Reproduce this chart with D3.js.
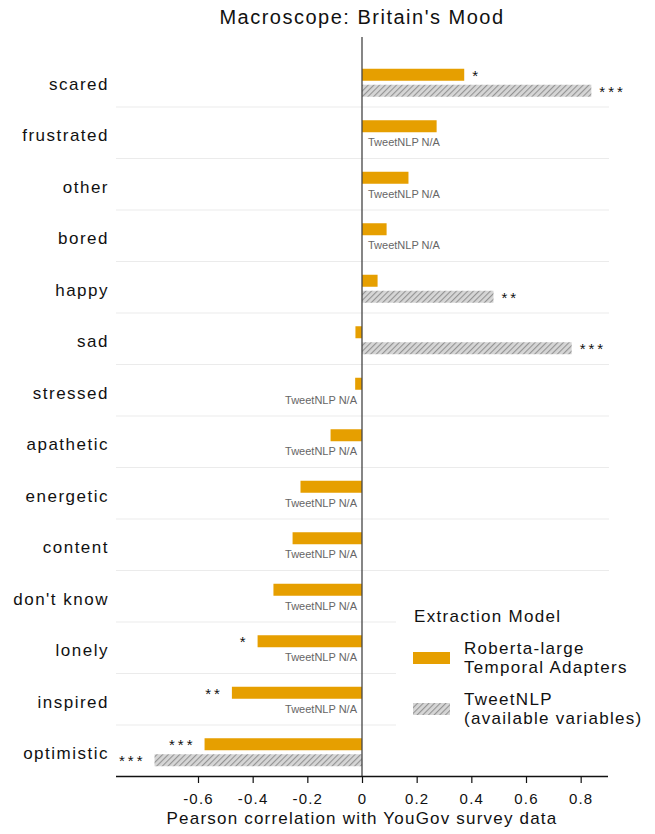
<!DOCTYPE html>
<html><head><meta charset="utf-8">
<script src="https://cdn.jsdelivr.net/npm/d3@7"></script>
<style>body{margin:0;background:#fff}svg{display:block;font-family:"Liberation Sans",Arial,sans-serif}</style>
</head><body>
<svg id="chart" width="655" height="834"></svg>
<script>
const categories = ["scared","frustrated","other","bored","happy","sad","stressed","apathetic","energetic","content","don't know","lonely","inspired","optimistic"];
const robertaValues = [0.374,0.273,0.17,0.09,0.057,-0.024,-0.025,-0.115,-0.225,-0.254,-0.324,-0.382,-0.476,-0.576];
const robertaSig = ["*","","","","","","","","","","","*","**","***"];
const tweetValues = [0.839,null,null,null,0.481,0.767,null,null,null,null,null,null,null,-0.759];
const tweetSig = ["***","","","","**","***","","","","","","","","***"];
const tickValues = [-0.6,-0.4,-0.2,0,0.2,0.4,0.6,0.8];
const legendLabels = [["Roberta-large","Temporal Adapters"],["TweetNLP","(available variables)"]];

const svg = d3.select("#chart");
const x = d3.scaleLinear().domain([-0.9,0.9]).range([116,608]);
const y = d3.scaleBand().domain(categories).range([55,776]).padding(0);
const orange = "#E69F00";

const defs = svg.append("defs");
const pat = defs.append("pattern").attr("id","hatch").attr("patternUnits","userSpaceOnUse")
  .attr("width",4).attr("height",4).attr("patternTransform","rotate(45)");
pat.append("rect").attr("width",4).attr("height",4).attr("fill","#d6d6d6");
pat.append("line").attr("x1",0).attr("y1",0).attr("x2",0).attr("y2",4).attr("stroke","#939393").attr("stroke-width",2.2);

// separators
svg.append("g").selectAll("line").data(categories.slice(1)).join("line")
  .attr("x1",116).attr("x2",609)
  .attr("y1",d=>y(d)+0.5).attr("y2",d=>y(d)+0.5)
  .attr("stroke","#ebebeb").attr("stroke-width",1.2);

// title
svg.append("text").attr("x",362).attr("y",24).attr("text-anchor","middle")
  .attr("font-size",20).attr("letter-spacing",1.5).attr("fill","#111").text("Macroscope: Britain's Mood");

// category labels
svg.append("g").selectAll("text").data(categories).join("text")
  .attr("x",109).attr("y",d=>y(d)+y.bandwidth()/2+3).attr("dy","0.35em")
  .attr("text-anchor","end").attr("font-size",17).attr("letter-spacing",1.5).attr("fill","#111").text(d=>d);

const rows = categories.map((c,i)=>({c, r:robertaValues[i], rs:robertaSig[i], t:tweetValues[i], ts:tweetSig[i]}));
const cy = d=>y(d.c)+y.bandwidth()/2;

// roberta bars
svg.append("g").selectAll("rect").data(rows).join("rect")
  .attr("x",d=>Math.min(x(0),x(d.r))).attr("width",d=>Math.abs(x(d.r)-x(0)))
  .attr("y",d=>cy(d)-12).attr("height",12).attr("fill",orange);

// tweet bars
svg.append("g").selectAll("rect").data(rows.filter(d=>d.t!==null)).join("rect")
  .attr("x",d=>Math.min(x(0),x(d.t))).attr("width",d=>Math.abs(x(d.t)-x(0)))
  .attr("y",d=>cy(d)+4).attr("height",12).attr("fill","url(#hatch)");

// N/A labels
svg.append("g").selectAll("text").data(rows.filter(d=>d.t===null)).join("text")
  .attr("x",d=>d.r>=0?x(0)+6:x(0)-5).attr("text-anchor",d=>d.r>=0?"start":"end")
  .attr("y",d=>cy(d)+14).attr("font-size",11).attr("fill","#666").text("TweetNLP N/A");

// significance stars
function stars(data, valKey, sigKey, off){
  svg.append("g").selectAll("text").data(data.filter(d=>d[sigKey])).join("text")
    .attr("x",d=>d[valKey]>=0?x(d[valKey])+8:x(d[valKey])-9)
    .attr("text-anchor",d=>d[valKey]>=0?"start":"end")
    .attr("y",d=>cy(d)+off).attr("font-size",15).attr("letter-spacing",3).attr("fill","#111")
    .text(d=>d[sigKey]);
}
stars(rows,"r","rs",0);
stars(rows.filter(d=>d.t!==null),"t","ts",16);

// zero line
svg.append("line").attr("x1",x(0)).attr("x2",x(0)).attr("y1",37).attr("y2",776)
  .attr("stroke","#444").attr("stroke-width",1.3);

// axis
const ax = svg.append("g").attr("transform","translate(0,776)")
  .call(d3.axisBottom(x).tickValues(tickValues).tickSize(7).tickPadding(10).tickFormat(d=>String(d)));
ax.select(".domain").attr("stroke","#111").attr("stroke-width",1.3).attr("d","M116,0.5H608");
ax.selectAll(".tick line").attr("stroke","#111").attr("stroke-width",1.2);
ax.selectAll(".tick text").attr("font-size",15).attr("letter-spacing",1.2).attr("fill","#111")
  .attr("font-family","Liberation Sans, Arial, sans-serif");

svg.append("text").attr("x",362).attr("y",824).attr("text-anchor","middle")
  .attr("font-size",17).attr("letter-spacing",1.2).attr("fill","#111").text("Pearson correlation with YouGov survey data");

// legend
const lg = svg.append("g");
lg.append("rect").attr("x",396).attr("y",595).attr("width",259).attr("height",135).attr("fill","#fff");
lg.append("text").attr("x",414).attr("y",622).attr("font-size",17).attr("letter-spacing",1.3).attr("fill","#111").text("Extraction Model");
const fills = [orange,"url(#hatch)"];
const ly = [658,709];
legendLabels.forEach((lab,i)=>{
  lg.append("rect").attr("x",413).attr("y",ly[i]-6).attr("width",37).attr("height",12).attr("fill",fills[i]);
  lab.forEach((t,j)=>{
    lg.append("text").attr("x",464).attr("y",ly[i]-4+j*19).attr("font-size",17).attr("letter-spacing",1.3).attr("fill","#111").text(t);
  });
});
</script>
</body></html>
